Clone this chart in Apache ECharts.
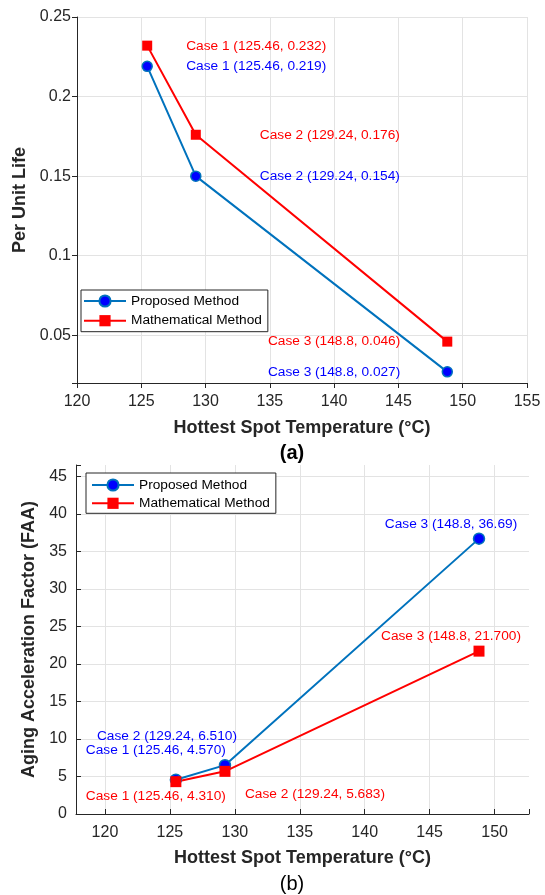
<!DOCTYPE html>
<html>
<head>
    <meta charset="utf-8">
    <title>Per Unit Life / Aging Acceleration Factor</title>
    <script src="https://cdn.jsdelivr.net/npm/echarts@6/dist/echarts.min.js"></script>
    <style>html, body { margin: 0; padding: 0; background: #fff; }</style>
</head>
<body>
    <div id="main" style="width: 545px;height:895px;"></div>

    <script type="text/javascript">
        // shared x values (hottest spot temperature)
        var temps = [125.46, 129.24, 148.8]

        // (a) per unit life
        var lifeProposed = [0.219, 0.150, 0.027]
        var lifeMath = [0.232, 0.176, 0.046]
        var lifeProposedText = ['Case 1 (125.46, 0.219)', 'Case 2 (129.24, 0.154)', 'Case 3 (148.8, 0.027)']
        var lifeMathText = ['Case 1 (125.46, 0.232)', 'Case 2 (129.24, 0.176)', 'Case 3 (148.8, 0.046)']

        // (b) aging acceleration factor
        var faaProposed = [4.57, 6.51, 36.69]
        var faaMath = [4.31, 5.683, 21.7]
        var faaProposedText = ['Case 1 (125.46, 4.570)', 'Case 2 (129.24, 6.510)', 'Case 3 (148.8, 36.69)']
        var faaMathText = ['Case 1 (125.46, 4.310)', 'Case 2 (129.24, 5.683)', 'Case 3 (148.8, 21.700)']

        // label placement next to each point: [align, dx, dy]
        var lifeProposedPos = [['left', 39, 0], ['left', 64, 0], ['right', -47, 0]]
        var lifeMathPos = [['left', 39, 1], ['left', 64, 0], ['right', -47, 0]]
        var faaProposedPos = [['left', -90, -29], ['right', 12, -29], ['center', -28, -14]]
        var faaMathPos = [['left', -90, 15], ['left', 20, 23], ['center', -28, -15]]

        var font = 'Liberation Sans, Arial, sans-serif'
        var blue = '#0000FF'
        var red = '#FF0000'
        var lineBlue = '#0072BD'

        var points = function(ys, texts, pos, color) {
            return temps.map(function(x, i) {
                return {
                    value: [x, ys[i]],
                    label: {
                        show: true,
                        position: 'inside',
                        align: pos[i][0],
                        verticalAlign: 'middle',
                        offset: [pos[i][1], pos[i][2]],
                        formatter: texts[i],
                        color: color,
                        fontSize: 13.7,
                        fontFamily: font
                    }
                }
            })
        }

        var multipleOf = function(v, step) {
            var q = v / step
            return Math.abs(q - Math.round(q)) < 1e-6
        }

        var axisCommon = function(inside) {
            return {
                axisLine: { show: true, lineStyle: { color: '#262626', width: 1 } },
                axisTick: { show: true, inside: inside, length: 5, lineStyle: { color: '#262626' } },
                splitLine: { show: true, showMaxLine: !inside, lineStyle: { color: '#e3e3e3', width: 1 } },
                nameTextStyle: { color: '#262626', fontSize: 18, fontWeight: 'bold', fontFamily: font }
            }
        }

        var makeAxis = function(base, extra) {
            var a = axisCommon(base)
            for (var k in extra) a[k] = extra[k]
            return a
        }

        var legendCommon = {
            orient: 'vertical',
            data: ['Proposed Method', 'Mathematical Method'],
            itemWidth: 42,
            itemHeight: 14,
            backgroundColor: '#fff',
            borderColor: '#262626',
            borderWidth: 1,
            borderRadius: 0,
            selectedMode: false,
            textStyle: { color: '#000', fontSize: 13.7, fontFamily: font }
        }

        var chart = echarts.init(document.getElementById('main'))
        var option = {
            animation: false,
            backgroundColor: '#fff',
            title: [
                { text: '(a)', left: 292, top: 443, textAlign: 'center', padding: 0,
                  textStyle: { fontSize: 20, fontWeight: 'bold', color: '#000', fontFamily: font } },
                { text: '(b)', left: 292, top: 874, textAlign: 'center', padding: 0,
                  textStyle: { fontSize: 20, fontWeight: 'normal', color: '#000', fontFamily: font } }
            ],
            legend: [
                Object.assign({}, legendCommon, { left: 81, top: 290, padding: [4, 6, 4, 2], itemGap: 5.7 }),
                Object.assign({}, legendCommon, { left: 86, top: 473, padding: [5, 6, 3, 5], itemGap: 4.3 })
            ],
            grid: [
                { left: 77, right: 18, top: 17, bottom: 512 },
                { left: 76, right: 16, top: 465, bottom: 81 }
            ],
            xAxis: [
                makeAxis(false, {
                    type: 'value', gridIndex: 0, min: 120, max: 155, interval: 5,
                    name: 'Hottest Spot Temperature (°C)', nameLocation: 'middle', nameGap: 36,
                    axisLabel: { color: '#262626', fontSize: 16, fontFamily: font, margin: 11 }
                }),
                makeAxis(true, {
                    type: 'value', gridIndex: 1, min: 117.77, max: 152.65, splitNumber: 7,
                    name: 'Hottest Spot Temperature (°C)', nameLocation: 'middle', nameGap: 35,
                    axisLabel: { color: '#262626', fontSize: 16, fontFamily: font, margin: 11,
                        showMinLabel: true, showMaxLabel: true,
                        formatter: function(v) { return multipleOf(v, 5) ? String(Math.round(v)) : '' } }
                })
            ],
            yAxis: [
                makeAxis(false, {
                    type: 'value', gridIndex: 0, min: 0.02, max: 0.25, splitNumber: 5,
                    name: 'Per Unit Life', nameLocation: 'middle', nameGap: 44,
                    axisLabel: { color: '#262626', fontSize: 16, fontFamily: font, margin: 6,
                        formatter: function(v) { return multipleOf(v, 0.05) ? String(+v.toFixed(3)) : '' } }
                }),
                makeAxis(true, {
                    type: 'value', gridIndex: 1, min: 0, max: 46.5, interval: 5,
                    name: 'Aging Acceleration Factor (FAA)', nameLocation: 'middle', nameGap: 30,
                    axisLabel: { color: '#262626', fontSize: 16, fontFamily: font, margin: 9,
                        formatter: function(v) { return multipleOf(v, 5) ? String(Math.round(v)) : '' } }
                })
            ],
            series: [
                {
                    name: 'Proposed Method', type: 'line', xAxisIndex: 0, yAxisIndex: 0,
                    symbol: 'circle', symbolSize: 10,
                    lineStyle: { color: lineBlue, width: 2 },
                    itemStyle: { color: blue, borderColor: lineBlue, borderWidth: 1.5 },
                    data: points(lifeProposed, lifeProposedText, lifeProposedPos, blue)
                },
                {
                    name: 'Mathematical Method', type: 'line', xAxisIndex: 0, yAxisIndex: 0,
                    symbol: 'rect', symbolSize: 10,
                    lineStyle: { color: red, width: 2 },
                    itemStyle: { color: red },
                    data: points(lifeMath, lifeMathText, lifeMathPos, red)
                },
                {
                    name: 'Proposed Method', type: 'line', xAxisIndex: 1, yAxisIndex: 1,
                    symbol: 'circle', symbolSize: 11,
                    lineStyle: { color: lineBlue, width: 2 },
                    itemStyle: { color: blue, borderColor: lineBlue, borderWidth: 1.5 },
                    data: points(faaProposed, faaProposedText, faaProposedPos, blue)
                },
                {
                    name: 'Mathematical Method', type: 'line', xAxisIndex: 1, yAxisIndex: 1,
                    symbol: 'rect', symbolSize: 11,
                    lineStyle: { color: red, width: 2 },
                    itemStyle: { color: red },
                    data: points(faaMath, faaMathText, faaMathPos, red)
                }
            ]
        }
        chart.setOption(option)
    </script>
</body>
</html>
